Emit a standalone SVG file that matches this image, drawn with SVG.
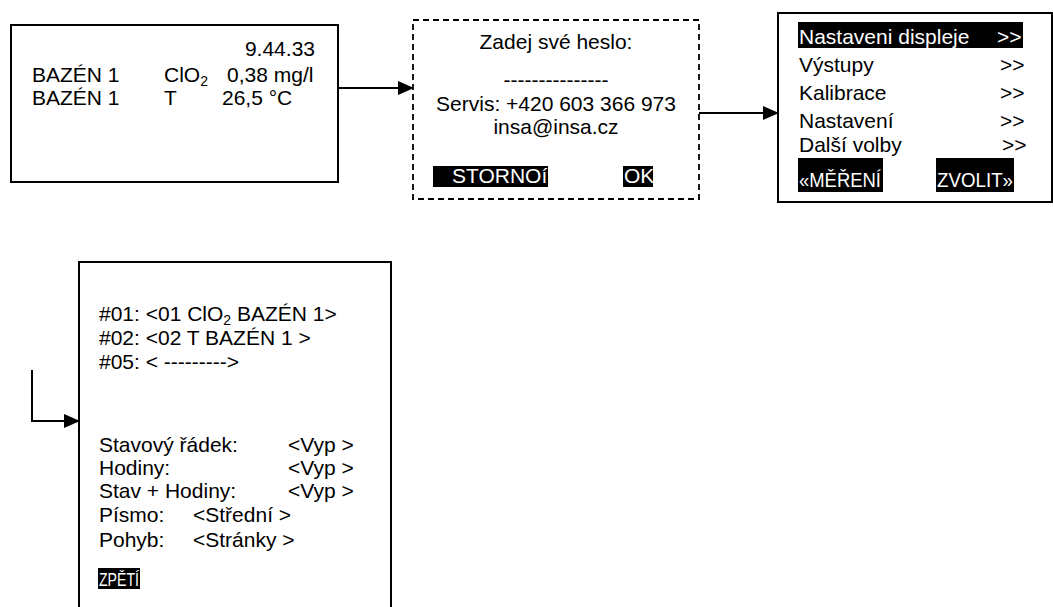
<svg xmlns="http://www.w3.org/2000/svg" width="1053" height="607" viewBox="0 0 1053 607">
  <defs>
    <marker id="arr" markerWidth="16" markerHeight="14" refX="15" refY="7" orient="auto" markerUnits="userSpaceOnUse">
      <path d="M0,0 L16,7 L0,14 Z" fill="#000"/>
    </marker>
    <style>
      text { font-family: "Liberation Sans", Arial, sans-serif; font-size: 21px; fill: #000; }
      .inv { fill: #fff; }
      .box { fill: #fff; stroke: #000; stroke-width: 2; }
      .dash { fill: #fff; stroke: #000; stroke-width: 1.8; stroke-dasharray: 6 4; }
      .conn { fill: none; stroke: #000; stroke-width: 2; }
      .hl { fill: #000; }
      .c { text-anchor: middle; }
      .sub { font-size: 14px; }
    </style>
  </defs>
  <rect width="1053" height="607" fill="#fff"/>

  <g id="connectors">
    <path class="conn" d="M338,88 H413" marker-end="url(#arr)"/>
    <path class="conn" d="M699,113 H778" marker-end="url(#arr)"/>
    <path class="conn" d="M32,370 V421 H79" marker-end="url(#arr)"/>
  </g>

  <g id="node-measure">
    <rect class="box" x="11" y="25" width="327" height="157"/>
    <text x="315" y="56" text-anchor="end">9.44.33</text>
    <text x="32" y="82">BAZÉN 1</text>
    <text x="164" y="82">ClO<tspan class="sub" dy="4">2</tspan></text>
    <text x="227" y="82">0,38 mg/l</text>
    <text x="32" y="105">BAZÉN 1</text>
    <text x="164" y="105">T</text>
    <text x="222" y="105">26,5 °C</text>
  </g>

  <g id="node-password">
    <rect class="dash" x="413" y="20" width="286" height="179"/>
    <text class="c" x="556" y="49">Zadej své heslo:</text>
    <text class="c" x="556" y="87">---------------</text>
    <text class="c" x="556" y="111">Servis: +420 603 366 973</text>
    <text class="c" x="556" y="134">insa@insa.cz</text>
    <rect class="hl" x="433" y="166" width="115" height="21"/>
    <text class="inv" x="452" y="183">STORNOí</text>
    <rect class="hl" x="623" y="166" width="30" height="21"/>
    <text class="inv" x="624" y="183">OK</text>
  </g>

  <g id="node-menu">
    <rect class="box" x="778" y="13" width="274" height="189"/>
    <rect class="hl" x="798" y="22" width="225" height="26"/>
    <text class="inv" x="799" y="44">Nastaveni displeje</text>
    <text class="inv" x="997" y="44">&gt;&gt;</text>
    <text x="799" y="72">Výstupy</text>
    <text x="1000" y="72">&gt;&gt;</text>
    <text x="799" y="100">Kalibrace</text>
    <text x="1000" y="100">&gt;&gt;</text>
    <text x="799" y="128">Nastavení</text>
    <text x="1000" y="128">&gt;&gt;</text>
    <text x="799" y="152">Další volby</text>
    <text x="1002" y="152">&gt;&gt;</text>
    <rect class="hl" x="798" y="158" width="85" height="34"/>
    <text class="inv" x="799" y="187" textLength="82" lengthAdjust="spacingAndGlyphs">«MĚŘENÍ</text>
    <rect class="hl" x="936" y="158" width="78" height="34"/>
    <text class="inv" x="937" y="187" textLength="76" lengthAdjust="spacingAndGlyphs">ZVOLIT»</text>
  </g>

  <g id="node-display">
    <rect class="box" x="79" y="262" width="312" height="360"/>
    <text x="99" y="321">#01: &lt;01 ClO<tspan class="sub" dy="4">2</tspan><tspan dy="-4"> BAZÉN 1&gt;</tspan></text>
    <text x="99" y="345">#02: &lt;02 T BAZÉN 1 &gt;</text>
    <text x="99" y="369">#05: &lt; ---------&gt;</text>
    <text x="99" y="452">Stavový řádek:</text>
    <text x="288" y="452">&lt;Vyp &gt;</text>
    <text x="99" y="475">Hodiny:</text>
    <text x="288" y="475">&lt;Vyp &gt;</text>
    <text x="99" y="498">Stav + Hodiny:</text>
    <text x="288" y="498">&lt;Vyp &gt;</text>
    <text x="99" y="522">Písmo:</text>
    <text x="193" y="522">&lt;Střední &gt;</text>
    <text x="99" y="547">Pohyb:</text>
    <text x="193" y="547">&lt;Stránky &gt;</text>
    <rect class="hl" x="98" y="568" width="42" height="21"/>
    <text class="inv" x="99" y="586" style="font-size:18px" textLength="40" lengthAdjust="spacingAndGlyphs">ZPĚTÍ</text>
  </g>
</svg>
